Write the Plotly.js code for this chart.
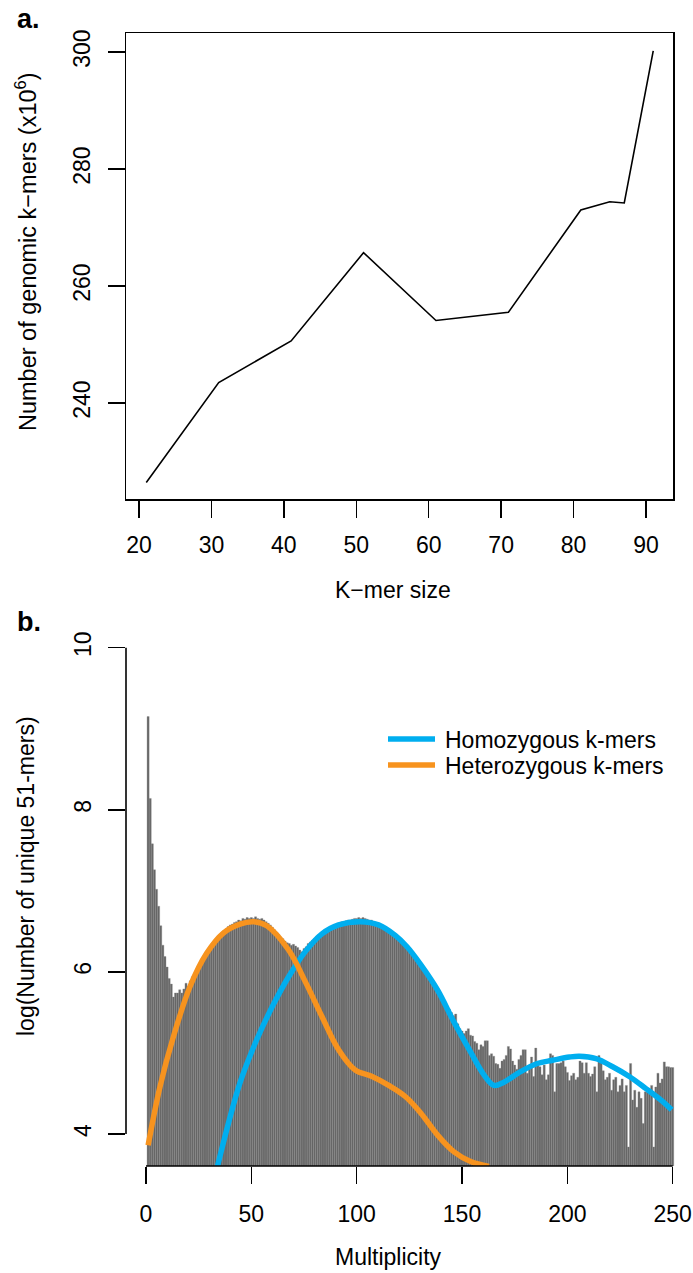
<!DOCTYPE html>
<html>
<head>
<meta charset="utf-8">
<script src="https://cdn.plot.ly/plotly-3.0.1.min.js"></script>
<style>
  html, body { margin: 0; padding: 0; background: #ffffff; }
  #chart { width: 693px; height: 1273px; }
</style>
</head>
<body>
<div id="chart"></div>
<script>
// ---------- Panel a: genomic k-mers vs k-mer size ----------
const kmerSize = [21, 31, 41, 51, 61, 71, 81, 85, 87, 91];
const genomicKmers = [226.4, 243.5, 250.6, 265.7, 254.1, 255.5, 273.0, 274.4, 274.2, 300.2];
const kmerTicks = [20, 30, 40, 50, 60, 70, 80, 90];
const genomicTicks = [240, 260, 280, 300];

// ---------- Panel b: 51-mer multiplicity histogram ----------
const logUnique51mers = [
  9.15, 8.14, 7.58, 7.26, 7.02, 6.81, 6.57, 6.33, 6.19, 6.06,
  5.92, 5.85, 5.69, 5.74, 5.74, 5.78, 5.74, 5.79, 5.86, 5.82,
  5.89, 5.94, 5.97, 6.02, 6.05, 6.10, 6.15, 6.19, 6.24, 6.28,
  6.31, 6.35, 6.38, 6.42, 6.45, 6.48, 6.51, 6.53, 6.56, 6.58,
  6.59, 6.61, 6.62, 6.64, 6.63, 6.66, 6.65, 6.67, 6.66, 6.67,
  6.66, 6.68, 6.66, 6.65, 6.66, 6.64, 6.62, 6.60, 6.58, 6.55,
  6.52, 6.49, 6.46, 6.43, 6.41, 6.38, 6.36, 6.35, 6.33, 6.34,
  6.32, 6.30, 6.27, 6.25, 6.29, 6.31, 6.35, 6.37, 6.39, 6.41,
  6.44, 6.46, 6.48, 6.50, 6.52, 6.53, 6.55, 6.56, 6.57, 6.58,
  6.60, 6.60, 6.62, 6.62, 6.63, 6.64, 6.64, 6.65, 6.66, 6.66,
  6.67, 6.66, 6.67, 6.66, 6.65, 6.64, 6.64, 6.62, 6.61, 6.60,
  6.58, 6.57, 6.55, 6.53, 6.52, 6.50, 6.48, 6.46, 6.44, 6.42,
  6.39, 6.36, 6.33, 6.30, 6.27, 6.24, 6.21, 6.17, 6.14, 6.10,
  6.07, 6.03, 5.99, 5.95, 5.91, 5.87, 5.83, 5.79, 5.74, 5.70,
  5.66, 5.61, 5.57, 5.54, 5.50, 5.46, 5.48, 5.36, 5.30, 5.27,
  5.24, 5.27, 5.30, 5.22, 5.21, 5.14, 5.12, 5.04, 5.10, 5.08,
  5.15, 5.15, 4.97, 4.99, 4.96, 4.87, 4.86, 4.81, 4.90, 4.92,
  4.97, 5.08, 5.05, 4.90, 4.85, 4.80, 4.92, 4.97, 5.04, 5.04,
  4.75, 4.83, 4.95, 4.71, 5.06, 4.87, 4.83, 4.73, 4.85, 4.67,
  4.73, 4.99, 4.97, 4.52, 4.87, 4.87, 4.88, 4.90, 4.83, 4.76,
  4.66, 4.72, 4.75, 4.67, 4.70, 4.90, 4.88, 4.75, 4.88, 4.75,
  4.71, 4.74, 4.83, 4.52, 4.97, 4.89, 4.78, 4.67, 4.70, 4.75,
  4.54, 4.67, 4.70, 4.52, 4.60, 4.68, 4.52, 4.60, 3.84, 4.87,
  4.42, 4.54, 4.33, 4.52, 4.44, 4.13, 4.52, 4.52, 4.55, 4.60,
  3.84, 4.58, 4.75, 4.63, 4.68, 4.89, 4.83, 4.83, 4.82, 4.82
];
const multiplicity = logUnique51mers.map((_, i) => i + 1);

const homozygousX = [33.9, 44.6, 52.5, 60.5, 67.7, 75.6, 83.5, 91.4, 101.7, 110.4, 118.3, 123.9, 130.4, 138.3, 146.2, 154.1, 160.4, 165.2, 169.9, 177.8, 185.7, 193.0, 201.0, 205.7, 213.6, 221.5, 229.4, 237.3, 245.3, 249.5];
const homozygousY = [3.60, 4.63, 5.16, 5.60, 5.94, 6.25, 6.47, 6.58, 6.62, 6.58, 6.45, 6.31, 6.09, 5.78, 5.38, 5.01, 4.73, 4.60, 4.64, 4.77, 4.87, 4.91, 4.95, 4.96, 4.93, 4.83, 4.71, 4.56, 4.40, 4.30];

const heterozygousX = [1.0, 6.6, 13.0, 20.9, 28.8, 36.7, 44.6, 50.9, 57.3, 67.7, 75.6, 83.5, 91.4, 99.3, 107.3, 115.2, 123.2, 130.4, 138.3, 146.2, 154.1, 162.8];
const heterozygousY = [3.86, 4.58, 5.20, 5.82, 6.23, 6.48, 6.59, 6.62, 6.57, 6.27, 5.88, 5.45, 5.04, 4.79, 4.71, 4.60, 4.46, 4.26, 3.99, 3.78, 3.66, 3.60];

const multTicks = [0, 50, 100, 150, 200, 250];
const logTicks = [4, 6, 8, 10];
const seriesNames = ['Homozygous k-mers', 'Heterozygous k-mers'];

const FONT = 'Liberation Sans, Arial, Helvetica, sans-serif';
const BLUE = '#00AEEF';
const ORANGE = '#F7931E';
const W = 693, H = 1273;
const px = v => v / W;
const py = v => 1 - v / H;

const traces = [
  {
    type: 'scatter', mode: 'lines', x: kmerSize, y: genomicKmers,
    xaxis: 'x', yaxis: 'y', showlegend: false,
    line: { color: '#000000', width: 1.6 }
  },
  {
    type: 'bar', x: multiplicity, y: logUnique51mers,
    xaxis: 'x2', yaxis: 'y2', showlegend: false,
    width: 1, marker: { color: '#666666', line: { width: 0.35, color: '#8a8a8a' } }
  },
  {
    type: 'scatter', mode: 'lines', name: seriesNames[0], showlegend: false,
    x: homozygousX, y: homozygousY, xaxis: 'x2', yaxis: 'y2',
    line: { color: BLUE, width: 5.5, shape: 'spline', smoothing: 1 }
  },
  {
    type: 'scatter', mode: 'lines', name: seriesNames[1], showlegend: false,
    x: heterozygousX, y: heterozygousY, xaxis: 'x2', yaxis: 'y2',
    line: { color: ORANGE, width: 5.5, shape: 'spline', smoothing: 1 }
  }
];

const tickCommon = {
  ticks: 'outside', ticklen: 17, tickwidth: 1.5, tickcolor: '#000000',
  showgrid: false, zeroline: false, automargin: false,
  tickfont: { family: FONT, size: 23, color: '#000000' }
};

const layout = {
  width: W, height: H, autosize: false,
  margin: { l: 0, r: 0, t: 0, b: 0, pad: 0 },
  paper_bgcolor: '#ffffff', plot_bgcolor: 'rgba(0,0,0,0)',
  font: { family: FONT, size: 23, color: '#000000' },
  bargap: 0,
  showlegend: false,
  xaxis: Object.assign({}, tickCommon, {
    domain: [px(126), px(673)], range: [18.2, 93.73], anchor: 'y',
    tickmode: 'array', tickvals: kmerTicks,
    showline: true, mirror: true, linecolor: '#000000', linewidth: 1.5,
    ticklabelstandoff: 8
  }),
  yaxis: Object.assign({}, tickCommon, {
    domain: [py(499), py(33)], range: [223.59, 303.25], anchor: 'x',
    tickmode: 'array', tickvals: genomicTicks, tickangle: -90,
    showline: true, mirror: true, linecolor: '#000000', linewidth: 1.5,
    ticklabelstandoff: 8
  }),
  xaxis2: Object.assign({}, tickCommon, {
    domain: [px(126), 1], range: [-9.49, 259.63], anchor: 'y2',
    tickmode: 'array', tickvals: multTicks, showline: false,
    ticklabelstandoff: 10
  }),
  yaxis2: Object.assign({}, tickCommon, {
    domain: [py(1166), py(640)], range: [3.6054, 10.095], anchor: 'x2',
    tickmode: 'array', tickvals: logTicks, tickangle: -90, showline: false,
    ticklabelstandoff: 8
  }),
  shapes: [
    { type: 'line', xref: 'x2', yref: 'y2 domain', x0: 0, x1: 250, y0: 0, y1: 0,
      line: { color: '#000000', width: 1.6 } },
    { type: 'line', xref: 'x2 domain', yref: 'y2', x0: 0, x1: 0, y0: 4, y1: 10,
      line: { color: '#000000', width: 1.6 } },
    // legend keys
    { type: 'line', xref: 'paper', yref: 'paper', x0: px(388), x1: px(435), y0: py(739), y1: py(739),
      line: { color: BLUE, width: 5.5 } },
    { type: 'line', xref: 'paper', yref: 'paper', x0: px(388), x1: px(435), y0: py(765), y1: py(765),
      line: { color: ORANGE, width: 5.5 } }
  ],
  annotations: [
    { text: seriesNames[0], xref: 'paper', yref: 'paper', x: px(443), y: py(740),
      xanchor: 'left', yanchor: 'middle', showarrow: false,
      font: { family: FONT, size: 23, color: '#000000' } },
    { text: seriesNames[1], xref: 'paper', yref: 'paper', x: px(443), y: py(766),
      xanchor: 'left', yanchor: 'middle', showarrow: false,
      font: { family: FONT, size: 23, color: '#000000' } },
    { text: '<b>a.</b>', xref: 'paper', yref: 'paper', x: px(15), y: py(19),
      xanchor: 'left', yanchor: 'middle', showarrow: false,
      font: { family: FONT, size: 27, color: '#000000' } },
    { text: '<b>b.</b>', xref: 'paper', yref: 'paper', x: px(15), y: py(622),
      xanchor: 'left', yanchor: 'middle', showarrow: false,
      font: { family: FONT, size: 27, color: '#000000' } },
    { text: 'Number of genomic k\u2212mers (x10<sup>6</sup>)', xref: 'paper', yref: 'paper',
      x: px(26), y: py(252), xanchor: 'center', yanchor: 'middle', textangle: -90,
      showarrow: false, font: { family: FONT, size: 23.5, color: '#000000' } },
    { text: 'K\u2212mer size', xref: 'paper', yref: 'paper',
      x: px(393), y: py(590), xanchor: 'center', yanchor: 'middle',
      showarrow: false, font: { family: FONT, size: 23, color: '#000000' } },
    { text: 'log(Number of unique 51-mers)', xref: 'paper', yref: 'paper',
      x: px(26), y: py(876), xanchor: 'center', yanchor: 'middle', textangle: -90,
      showarrow: false, font: { family: FONT, size: 23, color: '#000000' } },
    { text: 'Multiplicity', xref: 'paper', yref: 'paper',
      x: px(388), y: py(1257), xanchor: 'center', yanchor: 'middle',
      showarrow: false, font: { family: FONT, size: 23, color: '#000000' } }
  ]
};

Plotly.newPlot('chart', traces, layout, { displayModeBar: false, staticPlot: true });
</script>
</body>
</html>
